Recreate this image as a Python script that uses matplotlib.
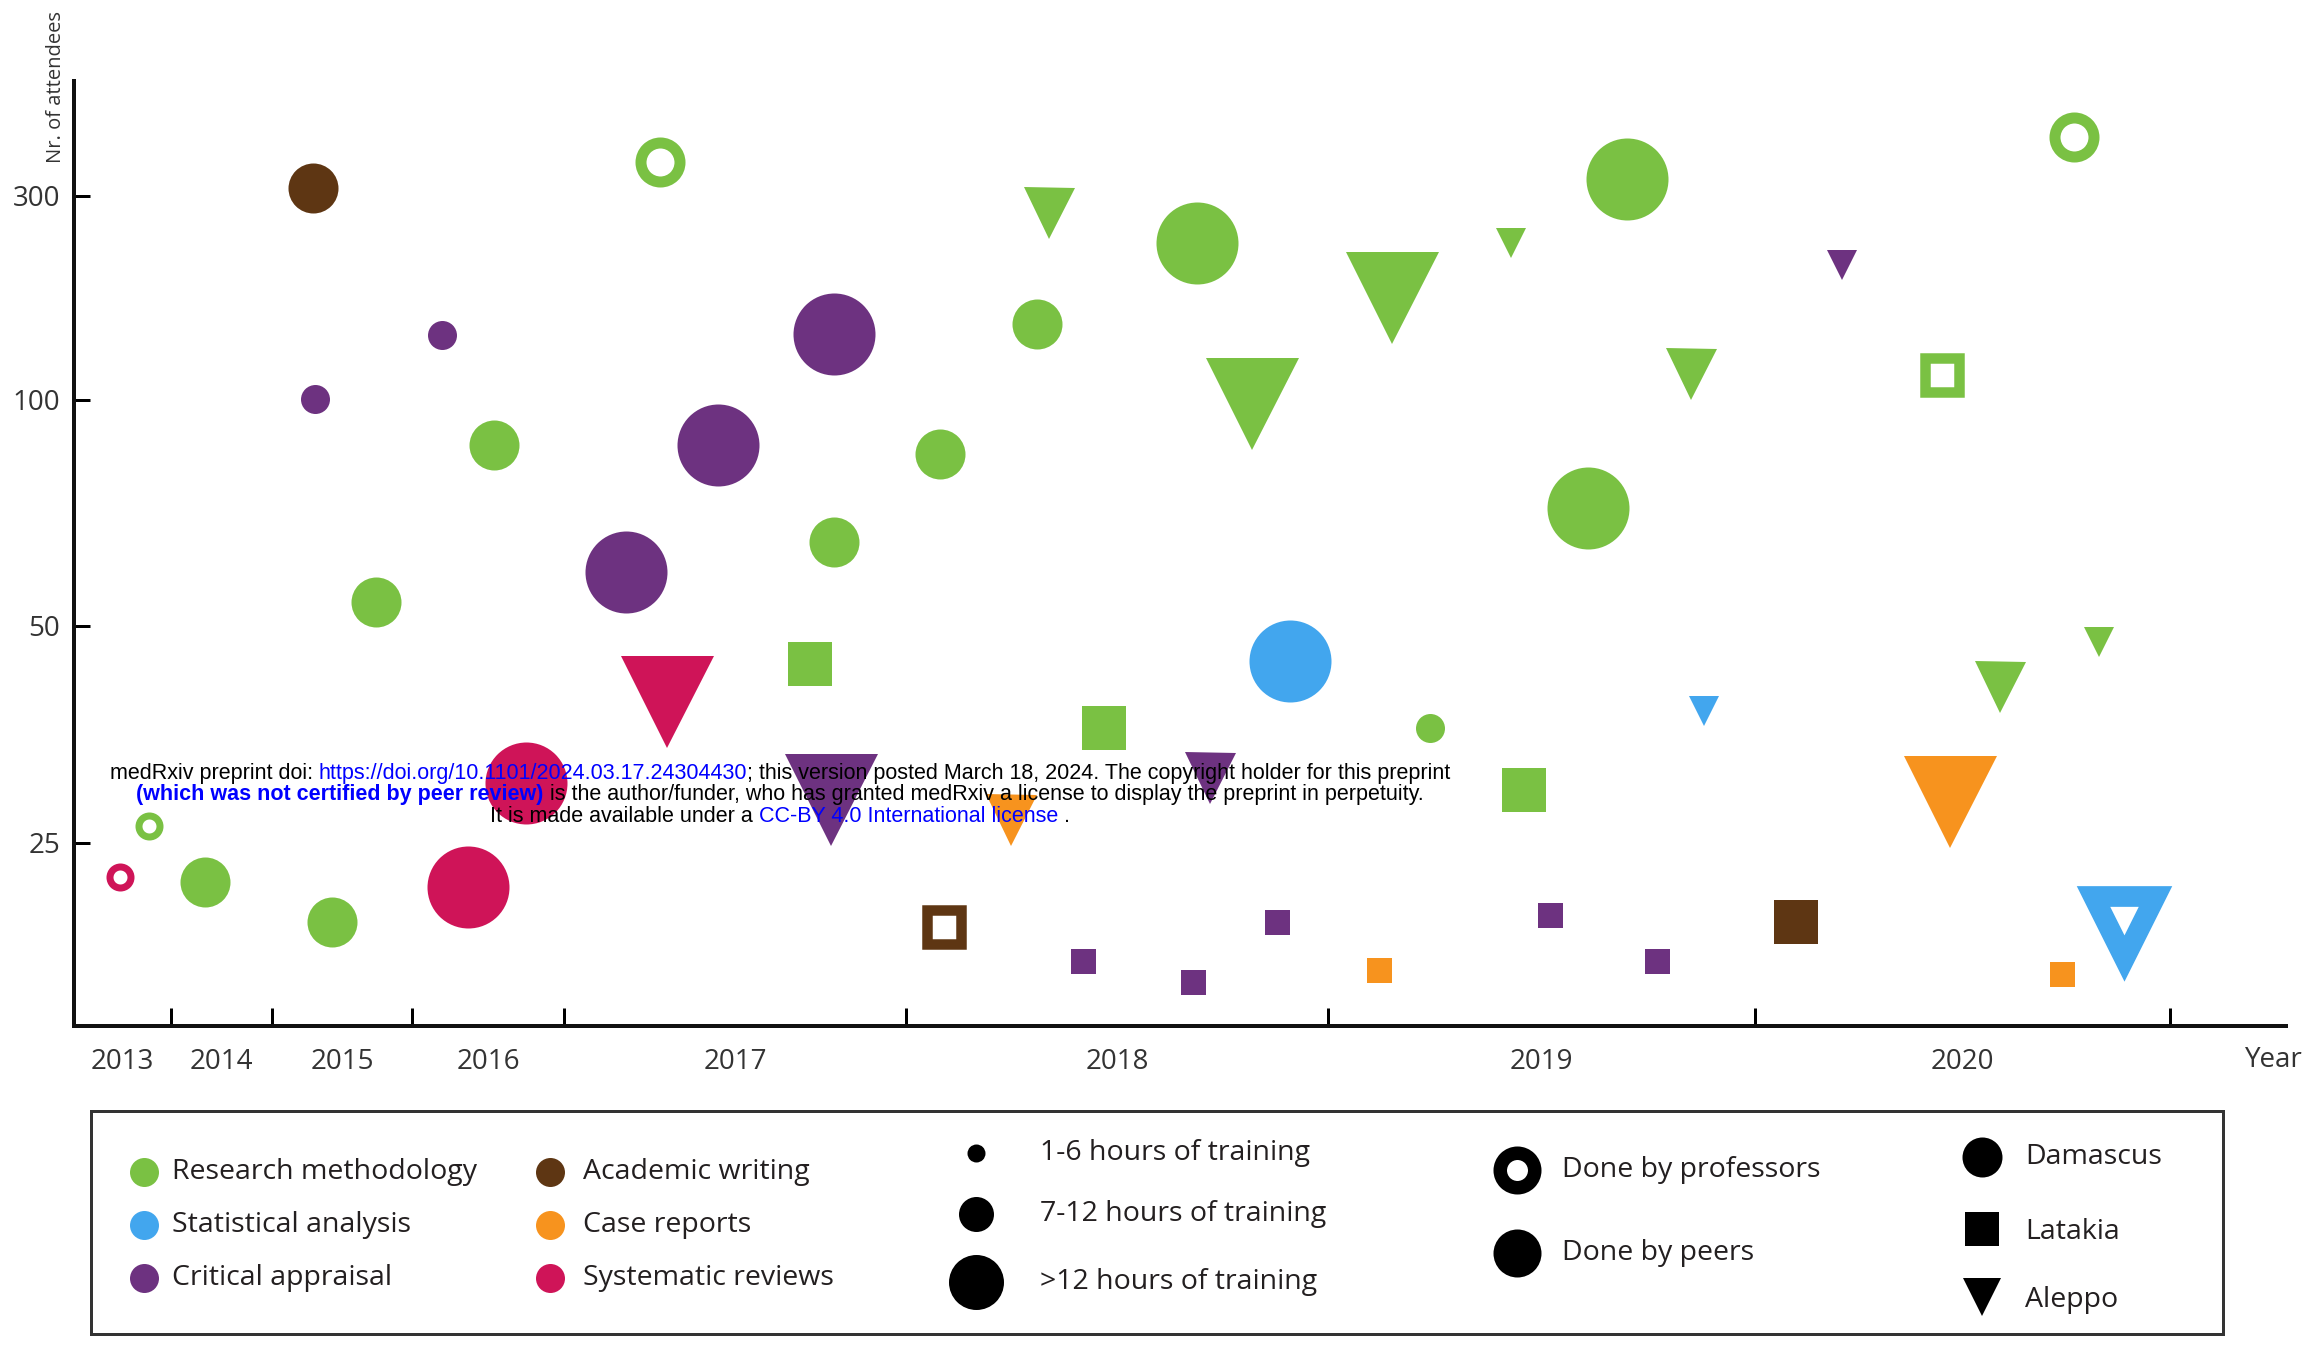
import numpy as np
import matplotlib
matplotlib.use("Agg")
import matplotlib.pyplot as plt

# ---- courses ----
# year of the course (fraction of the year), attendees, topic, city, hours class, who taught it
years = [2013.47, 2013.77, 2014.34, 2015.29, 2015.31, 2015.43, 2015.74, 2016.20, 2016.37, 2016.54,
         2016.75, 2017.18, 2017.28, 2017.30, 2017.45, 2017.72, 2017.79, 2017.79, 2017.78, 2018.08,
         2018.09, 2018.25, 2018.31, 2018.34, 2018.42, 2018.47, 2018.68, 2018.69, 2018.72, 2018.82,
         2018.88, 2018.91, 2019.12, 2019.15, 2019.24, 2019.43, 2019.46, 2019.52, 2019.61, 2019.70,
         2019.77, 2019.85, 2019.88, 2020.10, 2020.21, 2020.45, 2020.47, 2020.59, 2020.74, 2020.77,
         2020.83, 2020.89]
attendees = [22.2, 26.9, 21.8, 308, 101, 18.5, 55.4, 164, 21.4, 90,
             31.9, 62, 333, 41.2, 90, 45.6, 165, 68.6, 30.0, 88,
             18.1, 27.6, 174.5, 283, 15.3, 38.3, 13.6, 254, 32.5, 99,
             18.5, 46.0, 14.6, 200, 38.3, 254, 31.1, 19.1, 76, 317,
             15.3, 125.5, 40.2, 18.5, 232.4, 124.5, 29.7, 43.0, 14.3, 357.5,
             48.2, 18.1]
topics = ['SR', 'RM', 'RM', 'AW', 'CA', 'RM', 'RM', 'CA', 'SR', 'RM',
          'SR', 'CA', 'RM', 'SR', 'CA', 'RM', 'CA', 'RM', 'CA', 'RM',
          'AW', 'CR', 'RM', 'RM', 'CA', 'RM', 'CA', 'RM', 'CA', 'RM',
          'CA', 'SA', 'CR', 'RM', 'RM', 'RM', 'RM', 'CA', 'RM', 'RM',
          'CA', 'RM', 'SA', 'AW', 'CA', 'RM', 'CR', 'RM', 'CR', 'RM',
          'RM', 'SA']
cities = ['D', 'D', 'D', 'D', 'D', 'D', 'D', 'D', 'D', 'D',
          'D', 'D', 'D', 'A', 'D', 'L', 'D', 'D', 'A', 'D',
          'L', 'A', 'D', 'A', 'L', 'L', 'L', 'D', 'A', 'A',
          'L', 'D', 'L', 'A', 'D', 'A', 'L', 'L', 'D', 'D',
          'L', 'A', 'A', 'L', 'A', 'L', 'A', 'A', 'L', 'D',
          'A', 'A']
hours = [0, 0, 1, 1, 0, 1, 1, 0, 2, 1,
         2, 2, 1, 2, 2, 1, 2, 1, 2, 1,
         1, 1, 1, 1, 0, 1, 0, 2, 1, 2,
         0, 2, 0, 2, 0, 0, 1, 0, 2, 2,
         0, 1, 0, 1, 0, 1, 2, 1, 0, 1,
         0, 2]
teacher = ['prof', 'prof', 'peer', 'peer', 'peer', 'peer', 'peer', 'peer', 'peer', 'peer',
           'peer', 'peer', 'prof', 'peer', 'peer', 'peer', 'peer', 'peer', 'peer', 'peer',
           'prof', 'peer', 'peer', 'peer', 'peer', 'peer', 'peer', 'peer', 'peer', 'peer',
           'peer', 'peer', 'peer', 'peer', 'peer', 'peer', 'peer', 'peer', 'peer', 'peer',
           'peer', 'peer', 'peer', 'peer', 'peer', 'prof', 'peer', 'peer', 'peer', 'prof',
           'peer', 'prof']

topic_names = {'RM': 'Research methodology', 'SA': 'Statistical analysis', 'CA': 'Critical appraisal',
               'AW': 'Academic writing', 'CR': 'Case reports', 'SR': 'Systematic reviews'}
hour_names = ['1-6 hours of training', '7-12 hours of training', '>12 hours of training']
city_names = {'D': 'Damascus', 'L': 'Latakia', 'A': 'Aleppo'}
y_ticks = [25, 50, 100, 300]
year_labels = list(range(2013, 2021))

colors = {'RM': '#7AC143', 'SA': '#42A6EE', 'CA': '#6D3280',
          'AW': '#5E3613', 'CR': '#F7931E', 'SR': '#CF1458'}
shape = {'D': 'o', 'L': 's', 'A': 'v'}

W, H, DPI = 2308, 1347, 100
PT = 72.0 / DPI  # pixels -> points

# marker sizes in pixels: filled size, and (size, edge) for the hollow ones
filled_px = {'o': [29, 50, 82], 's': [25, 44, 62], 'v': [30, 51, 93]}
hollow_px = {'o': [(21, 7), (39, 11), (62, 16)], 's': [(18, 6), (33.5, 10.5), (48, 14)],
             'v': [(35, 12), (45, 15), (61.5, 20.7)]}

plt.rcParams['font.family'] = 'Open Sans'
txt_col = '#231F20'

fig = plt.figure(figsize=(W / DPI, H / DPI), dpi=DPI)
ax = fig.add_axes([74 / W, 1 - 1026 / H, (2286 - 74) / W, (1026 - 81) / H])

# the time axis and the attendee axis are both drawn with uneven steps
yr_edges = [2013, 2014, 2015, 2016, 2017, 2018, 2019, 2020, 2021, 2022]
yr_pos = [74, 171, 272, 412, 564, 906, 1328, 1755, 2170, 2585]
att_edges = [10, 25, 50, 100, 300, 500]
att_pos = [0, 183, 400, 626, 830, 1034]
ax.set_xscale('function', functions=(lambda v: np.interp(v, yr_edges, yr_pos),
                                      lambda p: np.interp(p, yr_pos, yr_edges)))
ax.set_yscale('function', functions=(lambda v: np.interp(v, att_edges, att_pos),
                                      lambda p: np.interp(p, att_pos, att_edges)))
ax.set_xlim(2013, 2021.28)
ax.set_ylim(10, 412.7)

for x, y, t, c, h, who in zip(years, attendees, topics, cities, hours, teacher):
    m = shape[c]
    if who == 'prof':
        ms, mew = hollow_px[m][h]
        ax.plot(x, y, marker=m, ms=ms * PT, mew=mew * PT, mfc='white', mec=colors[t],
                ls='none', clip_on=False)
    else:
        ax.plot(x, y, marker=m, ms=filled_px[m][h] * PT, mew=0, color=colors[t],
                ls='none', clip_on=False)

for s in ['top', 'right']:
    ax.spines[s].set_visible(False)
for s in ['left', 'bottom']:
    ax.spines[s].set_linewidth(4 * PT)
    ax.spines[s].set_color('#111111')

ax.set_yticks(y_ticks)
ax.set_yticklabels([str(v) for v in y_ticks])
ax.minorticks_off()
ax.tick_params(axis='y', direction='in', length=16 * PT, width=3 * PT, pad=10,
               labelsize=20, labelcolor='#333333')
ax.set_xticks(yr_edges[1:9])
ax.set_xticklabels([])
ax.set_xticks([y + 0.5 for y in year_labels], minor=True)
ax.set_xticklabels([str(y) for y in year_labels], minor=True)
ax.tick_params(axis='x', which='major', direction='in', length=18 * PT, width=3 * PT)
ax.tick_params(axis='x', which='minor', length=0, pad=16, labelsize=20, labelcolor='#333333')

fig.text(2274 / W, 1 - 1060 / H, 'Year', ha='center', va='center', fontsize=20, color='#333333')
fig.text(56 / W, 1 - 87 / H, 'Nr. of attendees', rotation=90, ha='center', va='center',
         fontsize=14.5, color='#333333')

# ---- legend box ----
lg = fig.add_axes([91 / W, 1 - 1334 / H, (2223 - 91) / W, (1334 - 1111) / H])
lg.set_xlim(91, 2223)
lg.set_ylim(1334, 1111)
lg.set_xticks([])
lg.set_yticks([])
for s in lg.spines.values():
    s.set_linewidth(3 * PT)
    s.set_color('#333333')

lfs = 20.5
rows = [1172, 1225, 1278]
for col, (mx, tx) in enumerate([(144, 172), (550, 583)]):
    for r, key in enumerate([['RM', 'SA', 'CA'], ['AW', 'CR', 'SR']][col]):
        lg.plot(mx, rows[r], 'o', ms=29 * PT, mew=0, color=colors[key])
        lg.text(tx, rows[r], topic_names[key], va='center', fontsize=lfs, color=txt_col)

for r, (yy, d) in enumerate(zip([1153, 1214, 1282], [18, 35, 55])):
    lg.plot(976, yy, 'o', ms=d * PT, mew=0, color='black')
    lg.text(1040, yy, hour_names[r], va='center', fontsize=lfs, color=txt_col)

lg.plot(1517, 1170, 'o', ms=34.5 * PT, mew=13.5 * PT, mfc='white', mec='black')
lg.text(1562, 1170, 'Done by professors', va='center', fontsize=lfs, color=txt_col)
lg.plot(1517, 1253, 'o', ms=48 * PT, mew=0, color='black')
lg.text(1562, 1253, 'Done by peers', va='center', fontsize=lfs, color=txt_col)

for key, my, ty, d in [('D', 1157, 1157, 40), ('L', 1229, 1232, 34), ('A', 1297, 1300, 38)]:
    lg.plot(1982, my, shape[key], ms=d * PT, mew=0, color='black')
    lg.text(2025, ty, city_names[key], va='center', fontsize=lfs, color=txt_col)

# ---- medRxiv stamp over the plot ----
wm_size = 15.5
wm_lines = [
    (773, [('medRxiv preprint doi: ', 'black', 'normal'),
           ('https://doi.org/10.1101/2024.03.17.24304430', 'blue', 'normal'),
           ('; this version posted March 18, 2024. The copyright holder for this preprint', 'black', 'normal')]),
    (795, [('(which was not certified by peer review)', 'blue', 'bold'),
           (' is the author/funder, who has granted medRxiv a license to display the preprint in perpetuity.', 'black', 'normal')]),
    (816, [('It is made available under a ', 'black', 'normal'),
           ('CC-BY 4.0 International license', 'blue', 'normal'),
           (' .', 'black', 'normal')]),
]
renderer = fig.canvas.get_renderer()


def width(s, weight):
    if not s:
        return 0.0
    out = []
    for txt in (s + 'x', 'x'):
        t = fig.text(0, 0, txt, fontsize=wm_size, family='Liberation Sans', weight=weight)
        out.append(t.get_window_extent(renderer).width)
        t.remove()
    return out[0] - out[1]


for yc, pieces in wm_lines:
    cursor = 0.0
    spots = []
    for s, col, wt in pieces:
        lead = len(s) - len(s.lstrip())
        spots.append(cursor + width(s[:lead], wt))
        cursor += width(s, wt)
    start = 780 - cursor / 2
    for (s, col, wt), off in zip(pieces, spots):
        fig.text((start + off) / W, 1 - yc / H, s.strip(), ha='left', va='center', color=col,
                 fontsize=wm_size, family='Liberation Sans', weight=wt, zorder=10)

fig.savefig('out.png', dpi=DPI, facecolor='white')
